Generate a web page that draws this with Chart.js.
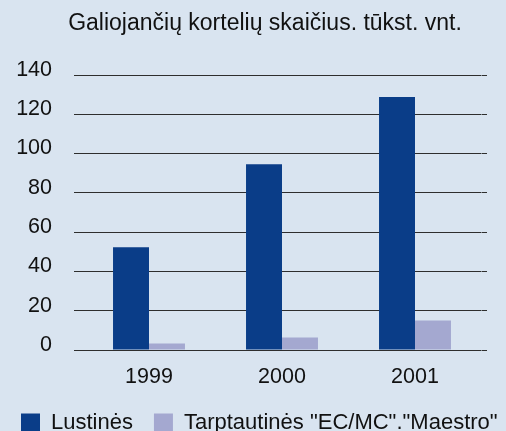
<!DOCTYPE html>
<html>
<head>
<meta charset="utf-8">
<script src="https://cdn.jsdelivr.net/npm/chart.js@4.4.1/dist/chart.umd.min.js"></script>
<style>
  html, body { margin: 0; padding: 0; overflow: hidden; background: #d9e4f0; }
  canvas { display: block; }
</style>
</head>
<body>
<!-- canvas is a bit larger than the window: the legend gets cut at the bottom like in the original -->
<canvas id="chart" width="530" height="444"></canvas>
<script>
const years = ['1999', '2000', '2001'];
const chipCards = [52.3, 94.6, 128.8];
const intlCards = [3.3, 6.4, 15.0];
const yTicks = [0, 20, 40, 60, 80, 100, 120, 140];
const seriesNames = ['Lustinės', 'Tarptautinės "EC/MC"."Maestro"'];

Chart.defaults.font.family = '"Liberation Sans", Arial, sans-serif';
Chart.defaults.color = '#111';

const gridColor = '#2e2e2e';
const yMin = yTicks[0];
const yMax = yTicks[yTicks.length - 1];
const yStep = yTicks[1] - yTicks[0];

const ctx = document.getElementById('chart').getContext('2d');
new Chart(ctx, {
    type: 'bar',
    data: {
        labels: years,
        datasets: [
            {
                label: seriesNames[0],
                data: chipCards,
                backgroundColor: '#0a3d88',
                borderWidth: 0,
                yAxisID: 'y'
            },
            {
                label: seriesNames[1],
                data: intlCards,
                backgroundColor: '#a4a8d0',
                borderWidth: 0,
                yAxisID: 'y'
            }
        ]
    },
    options: {
        responsive: false,
        animation: false,
        layout: { padding: 0 },
        datasets: {
            bar: { categoryPercentage: 0.541, barPercentage: 1 }
        },
        plugins: {
            title: {
                display: true,
                text: 'Galiojančių kortelių skaičius. tūkst. vnt.',
                font: { size: 23, weight: 'normal' },
                color: '#111',
                padding: { top: 10, bottom: 37.4 }
            },
            legend: {
                position: 'bottom',
                align: 'start',
                labels: {
                    boxWidth: 19,
                    boxHeight: 19,
                    padding: 21,
                    font: { size: 22 },
                    color: '#111'
                }
            },
            tooltip: { enabled: false }
        },
        scales: {
            x: {
                grid: { display: false },
                border: { display: false },
                ticks: { font: { size: 21.5 }, color: '#111', padding: 6 },
                afterFit: (scale) => { scale.height = 41; }
            },
            y: {
                position: 'left',
                min: yMin,
                max: yMax,
                ticks: {
                    stepSize: yStep,
                    font: { size: 21.5 },
                    color: '#111',
                    padding: 22,
                    labelOffset: -5
                },
                grid: { color: gridColor, lineWidth: 1, drawTicks: true, tickLength: 8.5 },
                border: { display: false },
                afterFit: (scale) => { scale.width = 82.5; }
            },
            yRight: {
                position: 'right',
                min: yMin,
                max: yMax,
                ticks: { stepSize: yStep, display: false },
                grid: { color: gridColor, lineWidth: 1, drawOnChartArea: false, drawTicks: true, tickLength: 5.5 },
                border: { display: false },
                afterFit: (scale) => { scale.width = 48.5; }
            }
        }
    }
});
</script>
</body>
</html>
